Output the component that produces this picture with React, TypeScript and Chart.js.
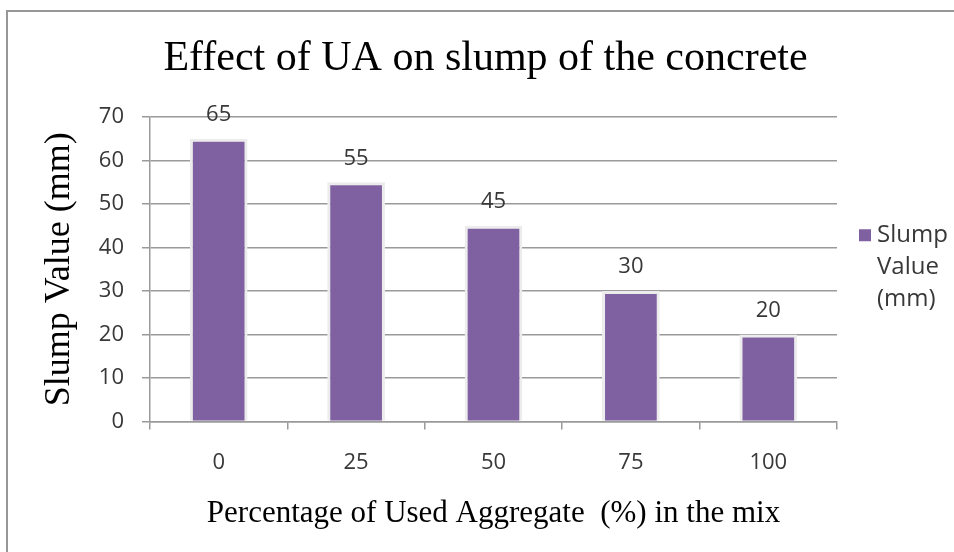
import React, { useEffect, useRef } from "react";
import { Chart, registerables } from "chart.js";

Chart.register(...registerables);

const TITLE = "Effect of UA on slump of the concrete";
const X_TITLE = "Percentage of Used Aggregate  (%) in the mix";
const Y_TITLE = "Slump Value (mm)";
const SERIES_LABEL = "Slump Value (mm)";
const categories = ["0", "25", "50", "75", "100"];
const slumpValues = [65, 55, 45, 30, 20];
const yTickStep = 10;
const yMin = 0;
const yMax = 70;

const BAR_COLOR = "#7f60a0";
const SANS = "'Open Sans', 'DejaVu Sans', sans-serif";
const SERIF = "'Liberation Serif', 'Times New Roman', serif";

const titlePlugin = {
  id: "topTitle",
  afterDraw(chart: any) {
    const { ctx, chartArea } = chart;
    ctx.save();
    ctx.font = `42px ${SERIF}`;
    ctx.fillStyle = "#000";
    ctx.textAlign = "center";
    ctx.textBaseline = "middle";
    ctx.fillText(TITLE, (chartArea.left + chartArea.right) / 2 - 8, chartArea.top - 58);
    ctx.restore();
  },
};

const dataLabelPlugin = {
  id: "dataLabels",
  afterDatasetsDraw(chart: any) {
    const { ctx } = chart;
    chart.data.datasets.forEach((ds: any, i: number) => {
      const meta = chart.getDatasetMeta(i);
      meta.data.forEach((el: any, j: number) => {
        ctx.save();
        ctx.font = `22px ${SANS}`;
        ctx.fillStyle = "#383838";
        ctx.textAlign = "center";
        ctx.textBaseline = "middle";
        ctx.fillText(String(ds.data[j]), el.x, el.y - 24);
        ctx.restore();
      });
    });
  },
};

const sideLegendPlugin = {
  id: "sideLegend",
  afterDraw(chart: any) {
    const { ctx, chartArea } = chart;
    const ds = chart.data.datasets[0];
    const words = String(ds.label).split(" ");
    const x = chartArea.right + 22;
    const cy = (chartArea.top + chartArea.bottom) / 2 - 2;
    const lh = 32;
    const y0 = cy - lh;
    ctx.save();
    ctx.fillStyle = ds.backgroundColor;
    ctx.fillRect(x, y0 - 6, 12, 12);
    ctx.font = `24px ${SANS}`;
    ctx.fillStyle = "#383838";
    ctx.textAlign = "left";
    ctx.textBaseline = "middle";
    words.forEach((w: string, k: number) => {
      ctx.fillText(w, x + 18, y0 + k * lh);
    });
    ctx.restore();
  },
};

export default function App() {
  const ref = useRef<HTMLCanvasElement>(null);
  useEffect(() => {
    if (!ref.current) return;
    const padL = 8;
    const yTitleSize = 36;
    const xTitleSize = 31;
    const chart = new Chart(ref.current, {
      type: "bar",
      data: {
        labels: categories,
        datasets: [
          {
            label: SERIES_LABEL,
            data: slumpValues,
            backgroundColor: BAR_COLOR,
            borderColor: "#ececec",
            borderWidth: 3,
            barPercentage: 0.42,
            categoryPercentage: 1,
          },
        ],
      },
      options: {
        animation: false,
        responsive: false,
        maintainAspectRatio: false,
        layout: { padding: { left: padL, right: 117, top: 117, bottom: 10 } },
        plugins: {
          legend: { display: false },
          tooltip: { enabled: false },
          title: { display: false },
        },
        scales: {
          x: {
            grid: {
              display: true,
              drawOnChartArea: false,
              drawTicks: true,
              tickLength: 8,
              color: "#9a9a9a",
              lineWidth: 1.5,
              offset: true,
            },
            border: { color: "#9a9a9a", width: 1.5 },
            ticks: {
              color: "#383838",
              font: { family: SANS, size: 22 },
              padding: 20,
            },
            title: {
              display: true,
              text: X_TITLE,
              color: "#000",
              font: { family: SERIF, size: xTitleSize },
              padding: { top: 0, bottom: 542 - 514 - (xTitleSize * 1.2) / 2 },
            },
            afterFit(scale: any) {
              scale.height = 120.5;
            },
          },
          y: {
            min: yMin,
            max: yMax,
            grid: {
              color: "#9a9a9a",
              lineWidth: 1.5,
              tickLength: 8,
            },
            border: { color: "#9a9a9a", width: 1.5 },
            ticks: {
              stepSize: yTickStep,
              color: "#383838",
              font: { family: SANS, size: 22 },
              padding: 18,
            },
            title: {
              display: true,
              text: Y_TITLE,
              color: "#000",
              font: { family: SERIF, size: yTitleSize },
              padding: { top: 60 - padL - (yTitleSize * 1.2) / 2, bottom: 0 },
            },
            afterFit(scale: any) {
              scale.width = 150 - padL;
            },
          },
        },
      },
      plugins: [titlePlugin, dataLabelPlugin, sideLegendPlugin],
    });
    return () => chart.destroy();
  }, []);

  return (
    <div
      style={{
        position: "absolute",
        left: 0,
        top: 0,
        width: 954,
        height: 552,
        background: "#fff",
        overflow: "hidden",
      }}
    >
      <div
        style={{
          position: "absolute",
          left: 6,
          top: 10,
          width: 960,
          height: 560,
          borderTop: "2px solid #979797",
          borderLeft: "2px solid #979797",
        }}
      />
      <canvas
        ref={ref}
        width={954}
        height={552}
        style={{ position: "absolute", left: 0, top: 0, width: 954, height: 552 }}
      />
    </div>
  );
}
